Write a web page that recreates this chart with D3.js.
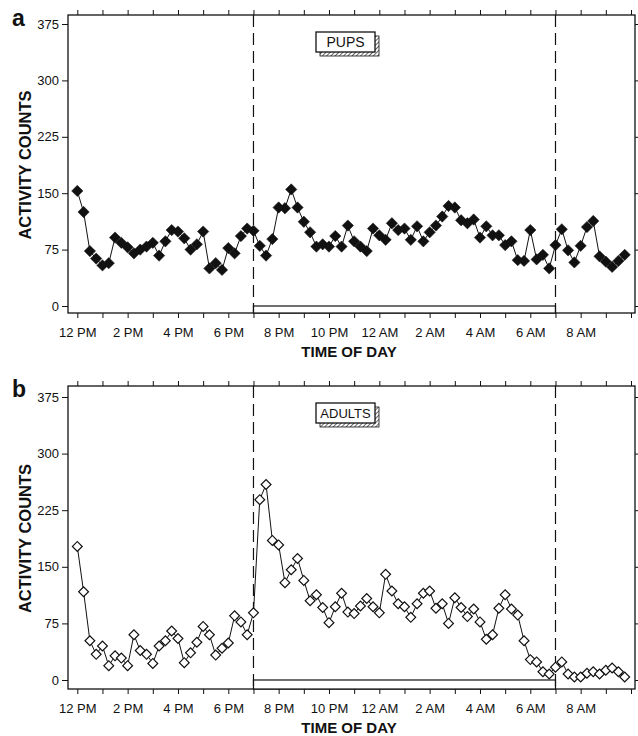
<!DOCTYPE html>
<html>
<head>
<meta charset="utf-8">
<script src="https://cdn.jsdelivr.net/npm/d3@7/dist/d3.min.js"></script>
<style>
  html, body { margin: 0; padding: 0; background: #fff; }
  svg { display: block; }
  text { font-family: "Liberation Sans", Arial, Helvetica, sans-serif; fill: #111; }
</style>
</head>
<body>
<svg id="chart" width="638" height="736"></svg>
<script>
// ---- data (activity counts every 15 min starting at 12 PM) ----
const pups = [153,125,73,63,54,57,91,84,78,70,75,79,84,67,86,101,99,90,75,82,99,50,57,48,77,70,93,103,100,80,
  67,89,131,130,155,131,112,98,79,82,79,93,79,107,86,79,73,103,94,88,110,101,103,88,106,86,98,107,119,133,
  131,114,110,115,91,106,94,94,81,86,61,60,101,62,68,50,81,102,74,58,80,105,113,66,59,52,60,68];
const adults = [177,117,52,34,45,19,32,29,19,60,39,34,22,45,52,65,55,23,36,50,71,60,33,42,49,85,77,60,89,239,
  259,185,179,129,146,161,132,105,113,96,76,97,115,90,88,98,108,97,89,140,118,101,97,83,101,115,118,95,101,75,
  109,96,84,94,77,54,60,95,113,94,86,52,27,24,11,8,17,24,8,4,4,9,11,8,13,16,11,4];
const yTicks = [0,75,150,225,300,375];
const hourTicks = d3.range(0, 23);               // hours after 12 PM
const hourLabels = ["12 PM","2 PM","4 PM","6 PM","8 PM","10 PM","12 AM","2 AM","4 AM","6 AM","8 AM"];
const darkStart = 7, darkEnd = 19;              // 7 PM to 7 AM
const panels = [
  {letter:"a", name:"PUPS",   data:pups,   filled:true,  top:15,  bottom:313, y0:306, y375:24},
  {letter:"b", name:"ADULTS", data:adults, filled:false, top:386, bottom:689, y0:680, y375:397}
];

const svg = d3.select("#chart");
const left = 68, right = 635;
const x = d3.scaleLinear().domain([0, 22]).range([77.3, 631]);

// hatch pattern for legend shadow
const defs = svg.append("defs");
const pat = defs.append("pattern").attr("id","hatch").attr("width",3).attr("height",3)
  .attr("patternUnits","userSpaceOnUse").attr("patternTransform","rotate(45)");
pat.append("rect").attr("width",3).attr("height",3).attr("fill","#fff");
pat.append("line").attr("x1",0).attr("y1",0).attr("x2",0).attr("y2",3).attr("stroke","#222").attr("stroke-width",1.4);

panels.forEach(p => {
  const g = svg.append("g");
  const y = d3.scaleLinear().domain([0, 375]).range([p.y0, p.y375]);

  // frame
  g.append("rect").attr("x", left).attr("y", p.top).attr("width", right - left).attr("height", p.bottom - p.top)
    .attr("fill", "none").attr("stroke", "#111").attr("stroke-width", 1.3);

  // left axis
  const yAx = g.append("g").attr("transform", `translate(${left},0)`)
    .call(d3.axisLeft(y).tickValues(yTicks).tickSize(6).tickPadding(3));
  yAx.select(".domain").remove();
  yAx.selectAll("text").style("font-size","13px").style("font-family",'"Liberation Sans", Arial, sans-serif').attr("fill","#111");
  yAx.selectAll("line").attr("stroke","#111");
  // right axis ticks
  const yAxR = g.append("g").attr("transform", `translate(${right},0)`)
    .call(d3.axisRight(y).tickValues(yTicks).tickSize(5).tickFormat(""));
  yAxR.select(".domain").remove();
  yAxR.selectAll("line").attr("stroke","#111");

  // bottom axis
  const xAx = g.append("g").attr("transform", `translate(0,${p.bottom})`)
    .call(d3.axisBottom(x).tickValues(hourTicks).tickSize(5).tickPadding(10)
      .tickFormat(d => d % 2 === 0 && d / 2 < hourLabels.length ? hourLabels[d / 2] : ""));
  xAx.select(".domain").remove();
  xAx.selectAll("text").style("font-size","13px").style("font-family",'"Liberation Sans", Arial, sans-serif').attr("fill","#111");
  xAx.selectAll("line").attr("stroke","#111");
  // top axis ticks
  const xAxT = g.append("g").attr("transform", `translate(0,${p.top})`)
    .call(d3.axisTop(x).tickValues(hourTicks).tickSize(5).tickFormat(""));
  xAxT.select(".domain").remove();
  xAxT.selectAll("line").attr("stroke","#111");

  // dark period bar
  g.append("rect").attr("x", x(darkStart)).attr("y", p.y0)
    .attr("width", x(darkEnd) - x(darkStart)).attr("height", p.bottom - p.y0)
    .attr("fill", "#fff").attr("stroke", "#111").attr("stroke-width", 1.2);

  // dashed lines
  [darkStart, darkEnd].forEach(h => {
    g.append("line").attr("x1", x(h)).attr("x2", x(h)).attr("y1", p.top).attr("y2", p.bottom)
      .attr("stroke", "#111").attr("stroke-width", 1.2).attr("stroke-dasharray", "12,6");
  });

  // legend box
  const lx = 316, ly = p.top + 17, lw = 59, lh = 20;
  g.append("rect").attr("x", lx + 4).attr("y", ly + 4).attr("width", lw).attr("height", lh)
    .attr("fill", "url(#hatch)").attr("stroke", "#111").attr("stroke-width", 0.8);
  g.append("rect").attr("x", lx).attr("y", ly).attr("width", lw).attr("height", lh)
    .attr("fill", "#fff").attr("stroke", "#111").attr("stroke-width", 1.3);
  g.append("text").attr("x", lx + lw / 2).attr("y", ly + lh / 2 + 5).attr("text-anchor", "middle")
    .style("font-size", p.name.length > 4 ? "13px" : "14px").text(p.name);

  // line
  const line = d3.line().x((d, i) => x(i * 0.25)).y(d => y(d));
  g.append("path").datum(p.data).attr("d", line).attr("fill", "none").attr("stroke", "#111").attr("stroke-width", 1);

  // markers
  const sym = d3.symbol().type(d3.symbolSquare).size(p.filled ? 64 : 48);
  g.selectAll(".pt").data(p.data).enter().append("path")
    .attr("d", sym)
    .attr("transform", (d, i) => `translate(${x(i * 0.25)},${y(d)}) rotate(45)`)
    .attr("fill", p.filled ? "#111" : "#fff")
    .attr("stroke", "#111").attr("stroke-width", p.filled ? 0.5 : 1.2);

  // panel letter
  g.append("text").attr("x", 12).attr("y", p.top + 11).style("font-size", "23px").style("font-weight", "bold").text(p.letter);

  // y title
  g.append("text").attr("transform", `translate(31,${(p.y0 + p.y375) / 2}) rotate(-90)`)
    .attr("text-anchor", "middle").style("font-size", "16.5px").style("font-weight", "bold").text("ACTIVITY COUNTS");

  // x title
  g.append("text").attr("x", 349).attr("y", p.bottom + 44).attr("text-anchor", "middle")
    .style("font-size", "15px").style("font-weight", "bold").text("TIME OF DAY");
});
</script>
</body>
</html>
